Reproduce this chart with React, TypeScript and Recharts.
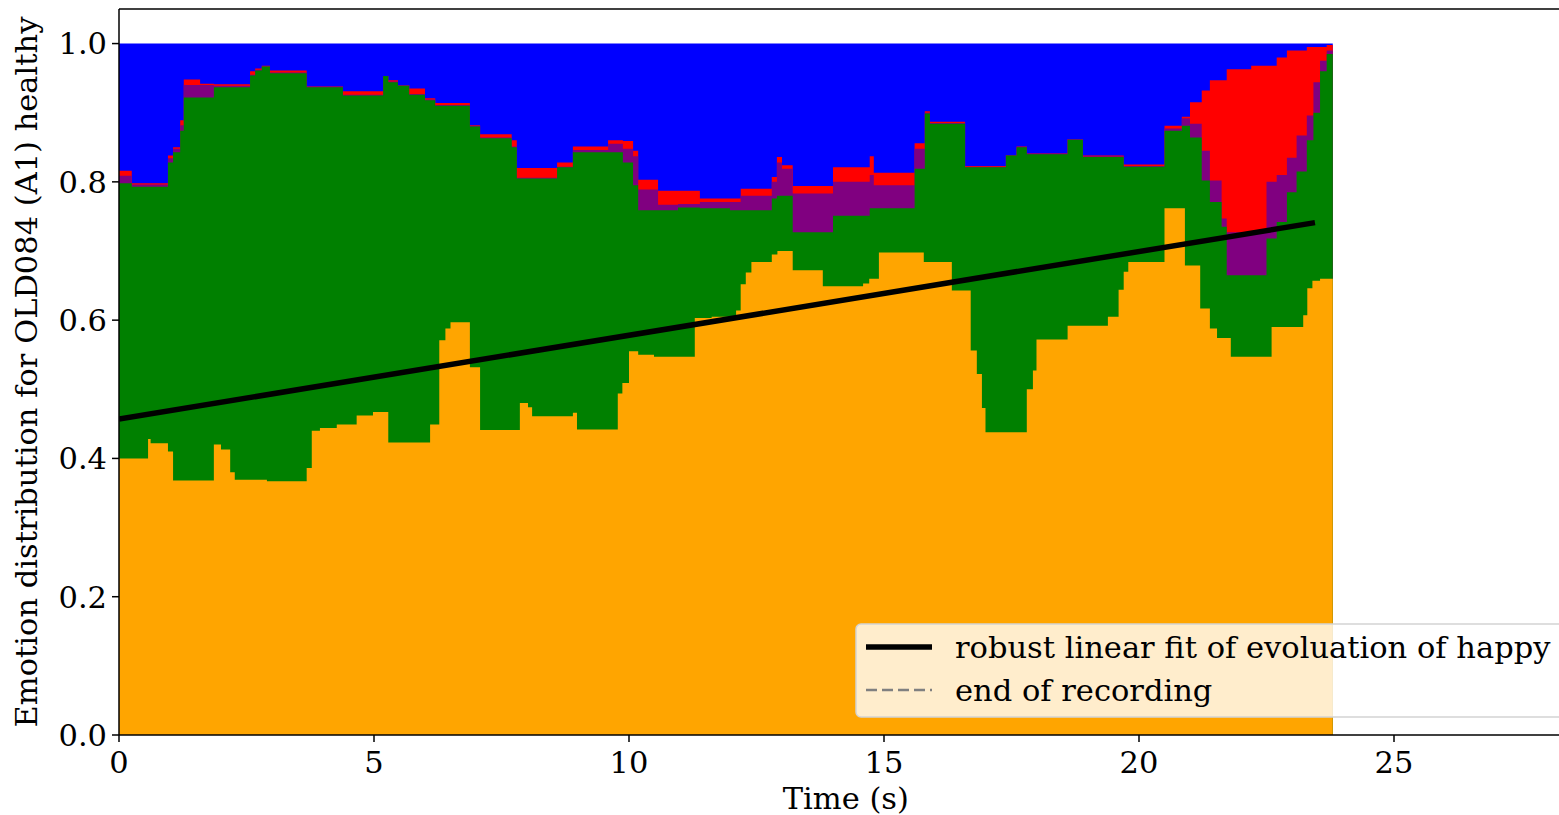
import { Area, ComposedChart, Legend, Line, ReferenceLine, XAxis, YAxis } from "recharts"

const END_TIME = 23.8
const X_MAX = 28.5
const FONT = "DejaVu Serif"
const FONT_SIZE = 30.5

// [time (s), cumulative top of each band]
const happy = [
  [0, 0.4], [0.57, 0.428], [0.62, 0.422], [0.96, 0.41], [1.06, 0.368], [1.86, 0.42],
  [2.0, 0.413], [2.18, 0.38], [2.27, 0.369], [2.9, 0.367], [3.68, 0.386], [3.78, 0.44],
  [3.94, 0.444], [4.27, 0.449], [4.66, 0.462], [4.98, 0.467], [5.28, 0.423], [6.1, 0.449],
  [6.28, 0.571], [6.4, 0.588], [6.5, 0.597], [6.88, 0.532], [7.08, 0.441], [7.86, 0.48],
  [8.02, 0.474], [8.1, 0.461], [8.9, 0.466], [8.98, 0.442], [9.78, 0.494], [9.87, 0.509],
  [10.0, 0.555], [10.18, 0.55], [10.49, 0.547], [11.29, 0.603], [11.62, 0.605], [12.1, 0.614],
  [12.19, 0.652], [12.29, 0.669], [12.4, 0.684], [12.8, 0.695], [12.91, 0.7], [13.21, 0.672],
  [13.8, 0.649], [14.59, 0.653], [14.71, 0.66], [14.9, 0.698], [15.78, 0.684], [16.33, 0.643],
  [16.7, 0.556], [16.82, 0.522], [16.92, 0.473], [16.99, 0.438], [17.8, 0.5], [17.92, 0.527],
  [17.99, 0.572], [18.6, 0.592], [19.39, 0.605], [19.6, 0.644], [19.7, 0.67], [19.79, 0.684],
  [20.5, 0.762], [20.9, 0.679], [21.2, 0.617], [21.39, 0.588], [21.53, 0.574], [21.8, 0.547],
  [22.6, 0.59], [23.22, 0.607], [23.3, 0.646], [23.4, 0.657], [23.55, 0.66], [23.8, 0.66],
]

const neutral = [
  [0, 0.798], [0.25, 0.793], [0.96, 0.828], [1.06, 0.843], [1.2, 0.874], [1.27, 0.922],
  [1.86, 0.937], [2.57, 0.954], [2.67, 0.961], [2.8, 0.967], [2.96, 0.957], [3.68, 0.937],
  [4.39, 0.925], [5.18, 0.953], [5.28, 0.944], [5.47, 0.939], [5.69, 0.926], [6.0, 0.918],
  [6.2, 0.91], [6.88, 0.88], [7.08, 0.863], [7.7, 0.85], [7.8, 0.805], [8.59, 0.821],
  [8.9, 0.843], [9.88, 0.828], [10.08, 0.795], [10.18, 0.759], [10.96, 0.763], [11.39, 0.762],
  [11.98, 0.759], [12.8, 0.776], [12.9, 0.78], [13.21, 0.727], [14.0, 0.751], [14.72, 0.762],
  [15.6, 0.819], [15.8, 0.899], [15.9, 0.884], [16.59, 0.821], [17.39, 0.838], [17.6, 0.85],
  [17.8, 0.84], [18.6, 0.861], [18.9, 0.836], [19.7, 0.822], [20.5, 0.874], [20.84, 0.881],
  [21.0, 0.864], [21.23, 0.802], [21.39, 0.771], [21.62, 0.735], [21.72, 0.665], [22.5, 0.718],
  [22.7, 0.742], [22.9, 0.785], [23.09, 0.815], [23.29, 0.86], [23.42, 0.9], [23.55, 0.96],
  [23.68, 0.985], [23.8, 0.985],
]

const sad = [
  [0, 0.809], [0.25, 0.796], [0.96, 0.834], [1.06, 0.848], [1.2, 0.882], [1.27, 0.94],
  [1.86, 0.939], [2.57, 0.955], [2.67, 0.962], [2.8, 0.967], [2.96, 0.958], [3.68, 0.938],
  [4.39, 0.926], [5.18, 0.953], [5.28, 0.945], [5.47, 0.94], [5.69, 0.927], [6.0, 0.919],
  [6.2, 0.911], [6.88, 0.881], [7.08, 0.864], [7.7, 0.851], [7.8, 0.806], [8.59, 0.822],
  [8.9, 0.846], [9.59, 0.855], [9.88, 0.848], [10.08, 0.837], [10.18, 0.789], [10.57, 0.767],
  [10.96, 0.768], [11.39, 0.771], [12.19, 0.78], [12.8, 0.8], [12.9, 0.828], [13.0, 0.819],
  [13.21, 0.783], [14.0, 0.8], [14.72, 0.81], [14.8, 0.795], [15.6, 0.848], [15.8, 0.9],
  [15.9, 0.885], [16.59, 0.822], [17.39, 0.839], [17.6, 0.851], [17.8, 0.841], [18.6, 0.862],
  [18.9, 0.837], [19.7, 0.823], [20.5, 0.877], [20.84, 0.892], [21.0, 0.884], [21.23, 0.845],
  [21.39, 0.802], [21.62, 0.747], [21.72, 0.727], [22.5, 0.8], [22.7, 0.81], [22.9, 0.835],
  [23.09, 0.867], [23.29, 0.896], [23.42, 0.944], [23.55, 0.975], [23.68, 0.99], [23.8, 0.99],
]

const angry = [
  [0, 0.816], [0.25, 0.798], [0.96, 0.838], [1.06, 0.85], [1.2, 0.889], [1.27, 0.948],
  [1.59, 0.942], [1.86, 0.941], [2.57, 0.96], [2.67, 0.964], [2.8, 0.968], [2.96, 0.961],
  [3.68, 0.938], [4.39, 0.931], [5.18, 0.953], [5.28, 0.947], [5.47, 0.94], [5.69, 0.935],
  [6.0, 0.921], [6.2, 0.914], [6.88, 0.882], [7.08, 0.869], [7.7, 0.86], [7.8, 0.82],
  [8.59, 0.828], [8.9, 0.851], [9.59, 0.86], [9.88, 0.859], [10.08, 0.845], [10.18, 0.803],
  [10.57, 0.787], [11.39, 0.776], [12.19, 0.79], [12.8, 0.807], [12.9, 0.836], [13.0, 0.824],
  [13.21, 0.794], [14.0, 0.821], [14.72, 0.837], [14.8, 0.813], [15.6, 0.856], [15.8, 0.902],
  [15.9, 0.887], [16.59, 0.823], [17.39, 0.839], [17.6, 0.851], [17.8, 0.841], [18.6, 0.862],
  [18.9, 0.838], [19.7, 0.825], [20.5, 0.881], [20.84, 0.894], [21.0, 0.915], [21.23, 0.932],
  [21.39, 0.947], [21.72, 0.963], [22.2, 0.968], [22.7, 0.98], [22.9, 0.99], [23.29, 0.995],
  [23.68, 0.998], [23.8, 0.998],
]

const surprise = [[0, 1], [END_TIME, 1]]

// robust linear fit of the happy share
const happyFit = [[0, 0.457], [23.45, 0.741]]

const xTicks = [0, 5, 10, 15, 20, 25]
const yTicks = [0, 0.2, 0.4, 0.6, 0.8, 1.0]

const legendItems = [
  { label: "robust linear fit of evoluation of happy", color: "#000000", dashed: false },
  { label: "end of recording", color: "#808080", dashed: true },
]

const toRows = (pairs: number[][]) => pairs.map(([t, v]) => ({ t, v }))

const bands = [
  { name: "surprise", pairs: surprise, color: "#0000ff" },
  { name: "angry", pairs: angry, color: "#ff0000" },
  { name: "sad", pairs: sad, color: "#800080" },
  { name: "neutral", pairs: neutral, color: "#008000" },
  { name: "happy", pairs: happy, color: "#ffa500" },
]

const LegendBox = () => (
  <svg width={760} height={96} style={{ display: "block" }}>
    <rect
      x={1}
      y={1}
      width={756}
      height={93}
      rx={5}
      fill="rgba(255,255,255,0.8)"
      stroke="#d4d4d4"
      strokeWidth={1.5}
    />
    {legendItems.map((item, i) => {
      const cy = 24 + i * 43
      return (
        <g key={item.label}>
          <line
            x1={11}
            x2={77}
            y1={cy}
            y2={cy}
            stroke={item.color}
            strokeWidth={item.dashed ? 2.5 : 5.5}
            strokeDasharray={item.dashed ? "11 5" : undefined}
          />
          <text
            x={100}
            y={cy + 11}
            fontFamily={FONT}
            fontSize={FONT_SIZE}
            fill="#000"
          >
            {item.label}
          </text>
        </g>
      )
    })}
  </svg>
)

export default function App() {
  return (
    <div
      style={{
        position: "absolute",
        left: 0,
        top: 0,
        width: 1559,
        height: 815,
        overflow: "hidden",
        background: "#fff",
      }}
    >
      <ComposedChart
        width={1600}
        height={815}
        margin={{ top: 9, right: 27.5, bottom: 0, left: 0 }}
      >
        <XAxis
          type="number"
          dataKey="t"
          domain={[0, X_MAX]}
          ticks={xTicks}
          allowDataOverflow
          height={80}
          tickSize={7}
          tickMargin={9}
          stroke="#000"
          strokeWidth={1.5}
          tick={{ fill: "#000", fontSize: FONT_SIZE, fontFamily: FONT }}
          label={{
            value: "Time (s)",
            position: "insideBottom",
            offset: 6,
            fill: "#000",
            fontSize: FONT_SIZE,
            fontFamily: FONT,
          }}
        />
        <YAxis
          type="number"
          domain={[0, 1.05]}
          ticks={yTicks}
          allowDataOverflow
          width={119}
          tickSize={7}
          tickMargin={5}
          stroke="#000"
          strokeWidth={1.5}
          tickFormatter={(v: number) => v.toFixed(1)}
          tick={{ fill: "#000", fontSize: FONT_SIZE, fontFamily: FONT }}
          label={{
            value: "Emotion distribution for OLD084 (A1) healthy",
            angle: -90,
            position: "insideLeft",
            offset: 26,
            fill: "#000",
            fontSize: FONT_SIZE,
            fontFamily: FONT,
            style: { textAnchor: "middle" },
          }}
        />
        {bands.map((b) => (
          <Area
            key={b.name}
            name={b.name}
            data={toRows(b.pairs)}
            dataKey="v"
            type="stepAfter"
            baseValue={0}
            fill={b.color}
            fillOpacity={1}
            stroke="none"
            dot={false}
            activeDot={false}
            isAnimationActive={false}
          />
        ))}
        <Line
          name="fit"
          data={toRows(happyFit)}
          dataKey="v"
          type="linear"
          stroke="#000"
          strokeWidth={5.5}
          dot={false}
          activeDot={false}
          isAnimationActive={false}
        />
        <ReferenceLine y={1.05} stroke="#000" strokeWidth={1.5} />
        <ReferenceLine x={X_MAX} stroke="#000" strokeWidth={1.5} />
        <Legend
          layout="horizontal"
          align="center"
          verticalAlign="middle"
          content={() => <LegendBox />}
          wrapperStyle={{ left: 855, top: 623, width: 760, height: 96 }}
        />
      </ComposedChart>
    </div>
  )
}
